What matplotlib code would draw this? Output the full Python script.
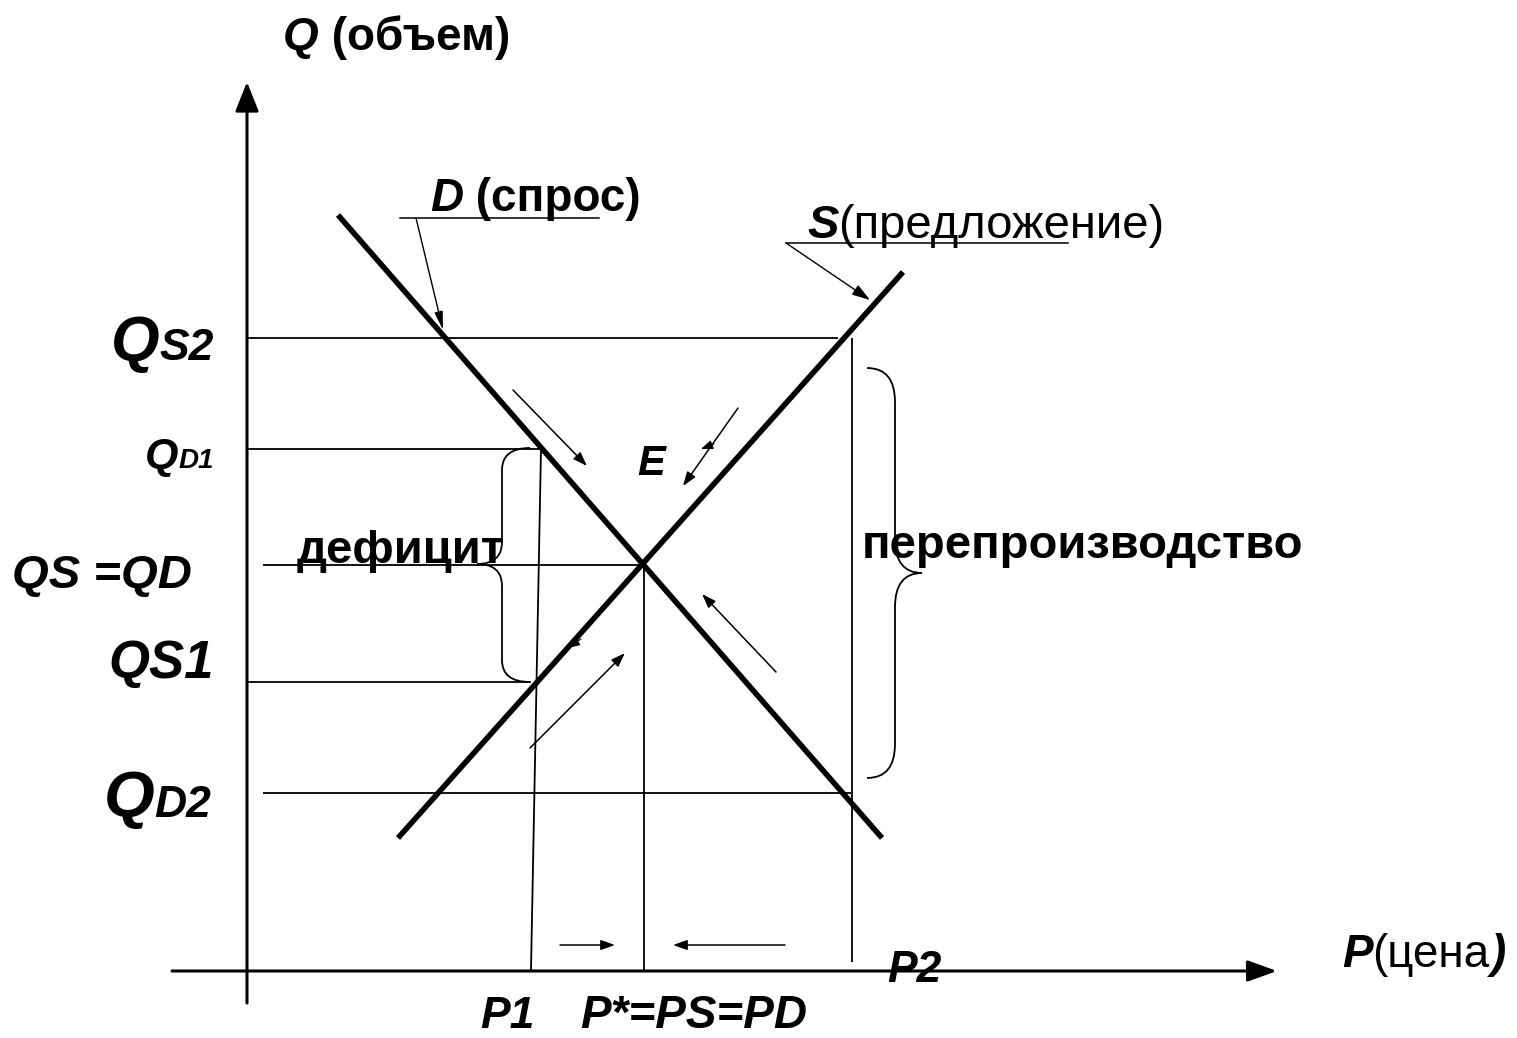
import matplotlib
matplotlib.use('Agg')
import matplotlib.pyplot as plt
from matplotlib.path import Path
from matplotlib.patches import PathPatch

plt.rcParams['font.family'] = ['Liberation Sans', 'DejaVu Sans']

W, H = 1517, 1038

# drawing is laid out in pixel units, y grows downwards
# demand and supply lines (end points)
demand_x = [338, 882]
demand_y = [215, 838]
supply_x = [398, 903]
supply_y = [838, 272]

# quantity levels: horizontal guides
q_names = ['Qs2', 'Qd1', 'QS=QD', 'QS1', 'Qd2']
q_y = [338, 449, 565, 682, 793]
q_x0 = [247, 247, 263, 247, 263]
q_x1 = [838, 541, 643, 531, 851]

# price levels: vertical guides
p_names = ['P1', 'P*', 'P2']
p_x_top = [541, 644, 852]
p_x_bot = [531, 644, 852]
p_y_top = [449, 565, 338]
p_y_bot = [970, 970, 962]

# small arrows showing the price adjustment (from, to)
adj_from = [(513, 390), (738, 408), (776, 672), (530, 748), (560, 945), (785, 945)]
adj_to = [(587, 466), (683, 486), (702, 594), (625, 653), (615, 945), (673, 945)]

fig = plt.figure(figsize=(W / 100, H / 100), dpi=100)
ax = fig.add_axes([0, 0, 1, 1])
ax.set_xlim(0, W)
ax.set_ylim(H, 0)
ax.axis('off')
rend = fig.canvas.get_renderer()


def arrow(p0, p1, lw=1.0, ms=10, hl=0.85, hw=0.3):
    ax.annotate('', xy=p1, xytext=p0,
                arrowprops=dict(arrowstyle='-|>,head_length=%s,head_width=%s' % (hl, hw),
                                mutation_scale=ms, lw=lw, color='black',
                                shrinkA=0, shrinkB=0))


def rich(x, y, parts, ha='left'):
    # parts: (text, size, weight, style)
    tt = []
    for s, size, weight, style in parts:
        tt.append(ax.text(0, y, s, fontsize=size, fontweight=weight,
                          fontstyle=style, va='baseline', ha='left'))
    ws = [t.get_window_extent(rend).width for t in tt]
    if ha == 'right':
        x -= sum(ws)
    for t, w in zip(tt, ws):
        t.set_x(x)
        x += w


def brace(x_end, x_mid, x_tip, y0, y1, ytip, r):
    verts = [(x_end, y0), (x_mid, y0), (x_mid, y0 + r),
             (x_mid, ytip - r), (x_mid, ytip), (x_tip, ytip),
             (x_mid, ytip), (x_mid, ytip + r),
             (x_mid, y1 - r), (x_mid, y1), (x_end, y1)]
    codes = [Path.MOVETO, Path.CURVE3, Path.CURVE3,
             Path.LINETO, Path.CURVE3, Path.CURVE3,
             Path.CURVE3, Path.CURVE3,
             Path.LINETO, Path.CURVE3, Path.CURVE3]
    ax.add_patch(PathPatch(Path(verts, codes), fc='none', ec='black', lw=1.3))


# axes
arrow((247, 1003), (247, 82), lw=2.2, ms=10, hl=1.8, hw=0.72)
arrow((172, 971), (1277, 971), lw=2.2, ms=10, hl=1.8, hw=0.65)

# guides
for y, a, b in zip(q_y, q_x0, q_x1):
    ax.plot([a, b], [y, y], color='black', lw=1.3, solid_capstyle='butt')
for xt, xb, yt, yb in zip(p_x_top, p_x_bot, p_y_top, p_y_bot):
    ax.plot([xt, xb], [yt, yb], color='black', lw=1.3, solid_capstyle='butt')

# curves
ax.plot(demand_x, demand_y, color='black', lw=4.0, solid_capstyle='butt')
ax.plot(supply_x, supply_y, color='black', lw=4.0, solid_capstyle='butt')

for a, b in zip(adj_from, adj_to):
    arrow(a, b, lw=1.1)
# tiny stray arrow heads
arrow((714, 444), (701, 449), lw=0.8, ms=8, hl=0.9, hw=0.35)
arrow((581, 639), (568, 648), lw=0.8, ms=8, hl=0.9, hw=0.35)

# braces
brace(530, 502, 477, 448, 682, 564, 22)
brace(867, 895, 922, 368, 778, 573, 34)

# curve labels with leaders
rich(430, 211, [('D', 33, 'bold', 'italic'), (' (спрос)', 33, 'bold', 'normal')])
ax.plot([400, 599], [218, 218], color='black', lw=1.1)
arrow((416, 218), (443, 330), lw=1.0, ms=10, hl=1.1, hw=0.25)

rich(807, 238, [('S', 34, 'bold', 'italic'), ('(предложение)', 34, 'normal', 'normal')])
ax.plot([786, 1068], [243, 243], color='black', lw=1.1)
arrow((786, 243), (870, 300), lw=1.0, ms=10, hl=1.1, hw=0.35)

rich(283, 50, [('Q', 33, 'bold', 'italic'), (' (объем)', 33, 'bold', 'normal')])
rich(1342, 967, [('P', 33, 'bold', 'italic'), ('(цена', 33, 'normal', 'normal'),
                 (')', 33, 'bold', 'italic')])

# quantity labels
rich(214, 360, [('Q', 45, 'bold', 'italic'), ('S2', 32, 'bold', 'italic')], ha='right')
rich(214, 468, [('Q', 31, 'bold', 'italic'), ('D1', 20, 'bold', 'italic')], ha='right')
rich(12, 588, [('QS =QD', 34, 'bold', 'italic')])
rich(214, 678, [('QS1', 38, 'bold', 'italic')], ha='right')
rich(211, 817, [('Q', 47, 'bold', 'italic'), ('D2', 32, 'bold', 'italic')], ha='right')

# price labels
rich(480, 1028, [('P1', 32, 'bold', 'italic')])
rich(580, 1028, [('P*=PS=PD', 33, 'bold', 'italic')])
rich(887, 982, [('P2', 32, 'bold', 'italic')])

rich(637, 475, [('E', 30, 'bold', 'italic')])
rich(297, 563, [('дефицит', 34, 'bold', 'normal')])
rich(862, 558, [('перепроизводство', 34, 'bold', 'normal')])

plt.savefig('out.png', dpi=100)
